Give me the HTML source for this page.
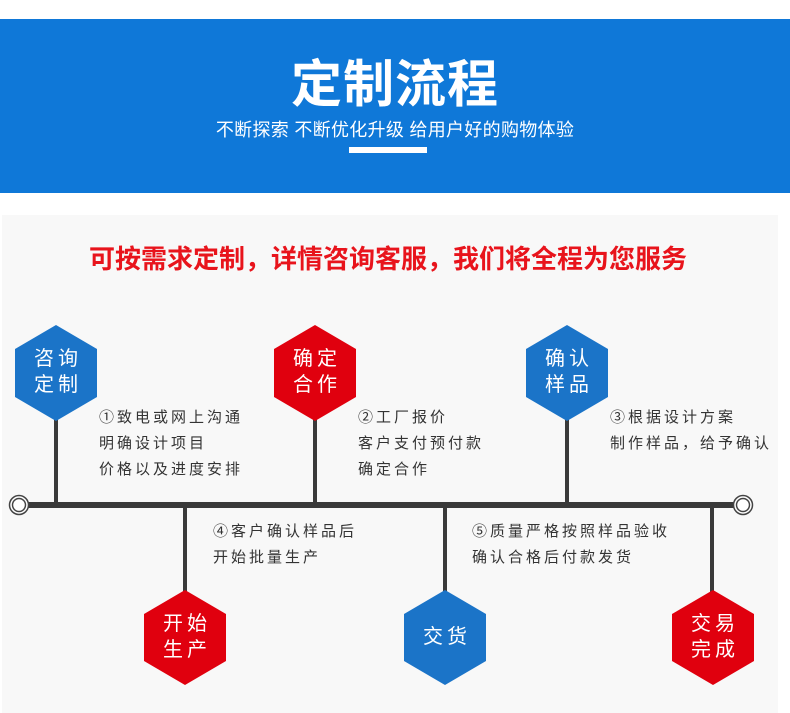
<!DOCTYPE html>
<html><head><meta charset="utf-8"><style>
body{margin:0;width:790px;height:713px;background:#fff;position:relative;overflow:hidden;font-family:"Liberation Sans","Noto Sans CJK SC",sans-serif}
.a{position:absolute;white-space:nowrap}
.t{font-size:15px;color:#333;letter-spacing:3px;line-height:26px}
.h{color:#fff;font-size:20px;letter-spacing:4px;line-height:26px;text-align:center;width:90px}
</style></head><body>
<div class="a" style="left:0;top:19px;width:790px;height:174px;background:#0f78d8"></div>
<div class="a" style="left:0;top:55px;width:790px;text-align:center;color:#fff;font-size:51px;font-weight:bold;line-height:60px;letter-spacing:1px">定制流程</div>
<div class="a" style="left:0;top:118px;width:790px;text-align:center;color:#fff;font-size:18px;line-height:24px;letter-spacing:0.3px">不断探索 不断优化升级 给用户好的购物体验</div>
<div class="a" style="left:349px;top:147px;width:78px;height:6px;background:#fff"></div>
<div class="a" style="left:2px;top:215px;width:776px;height:498px;background:#f8f8f8"></div>
<div class="a" style="left:0;top:242px;width:776px;text-align:center;color:#e8141c;font-size:26px;font-weight:bold;line-height:34px">可按需求定制，详情咨询客服，我们将全程为您服务</div>
<svg class="a" style="left:0;top:0" width="790" height="713">
<g stroke="#3a3a3a" stroke-width="4">
<line x1="56" y1="400" x2="56" y2="505"/><line x1="315" y1="400" x2="315" y2="505"/><line x1="567" y1="400" x2="567" y2="505"/>
<line x1="185" y1="505" x2="185" y2="600"/><line x1="445" y1="505" x2="445" y2="600"/><line x1="712" y1="505" x2="712" y2="600"/>
</g>
<line x1="28" y1="505" x2="734" y2="505" stroke="#3a3a3a" stroke-width="6"/>
<circle cx="19" cy="505" r="9.5" fill="#fff" stroke="#444" stroke-width="1.5"/><circle cx="19" cy="505" r="6.5" fill="#fff" stroke="#444" stroke-width="1.5"/>
<circle cx="743" cy="505" r="9.5" fill="#fff" stroke="#444" stroke-width="1.5"/><circle cx="743" cy="505" r="6.5" fill="#fff" stroke="#444" stroke-width="1.5"/>
<g fill="#1b74c8">
<polygon points="56,325 97,349 97,397 56,421 15,397 15,349"/>
<polygon points="567,325 608,349 608,397 567,421 526,397 526,349"/>
<polygon points="445,590 486,614 486,661 445,685 404,661 404,614"/>
</g>
<g fill="#e0000e">
<polygon points="315,325 356,349 356,397 315,421 274,397 274,349"/>
<polygon points="185,590 226,614 226,661 185,685 144,661 144,614"/>
<polygon points="713,590 754,614 754,661 713,685 672,661 672,614"/>
</g>
</svg>
<div class="a h" style="left:13px;top:346px">咨询<br>定制</div>
<div class="a h" style="left:272px;top:346px">确定<br>合作</div>
<div class="a h" style="left:524px;top:346px">确认<br>样品</div>
<div class="a h" style="left:142px;top:611px">开始<br>生产</div>
<div class="a h" style="left:402px;top:624px">交货</div>
<div class="a h" style="left:670px;top:611px">交易<br>完成</div>
<div class="a t" style="left:99px;top:405px">①致电或网上沟通<br>明确设计项目<br>价格以及进度安排</div>
<div class="a t" style="left:358px;top:405px">②工厂报价<br>客户支付预付款<br>确定合作</div>
<div class="a t" style="left:610px;top:405px">③根据设计方案<br>制作样品，给予确认</div>
<div class="a t" style="left:213px;top:519px">④客户确认样品后<br>开始批量生产</div>
<div class="a t" style="left:472px;top:519px">⑤质量严格按照样品验收<br>确认合格后付款发货</div>
</body></html>
